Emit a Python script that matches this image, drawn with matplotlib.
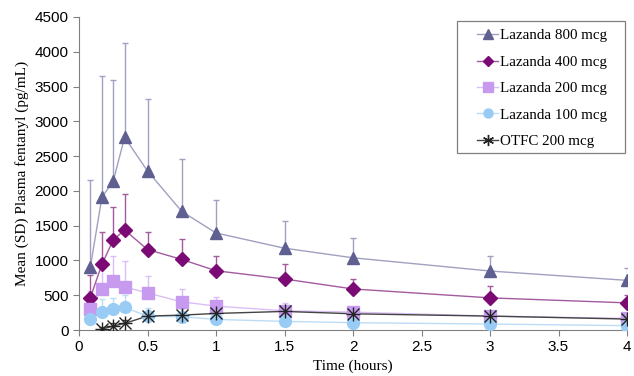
import numpy as np
import matplotlib.pyplot as plt
from matplotlib.patches import Rectangle

# sampling times (hours)
t = [0.083, 0.167, 0.25, 0.333, 0.5, 0.75, 1, 1.5, 2, 3, 4]

mean_800 = [905, 1907, 2142, 2770, 2286, 1705, 1395, 1176, 1038, 848, 714]
top_800 = [2156, 3651, 3594, 4121, 3321, 2458, 1867, 1571, 1319, 1057, 895]

mean_400 = [467, 943, 1295, 1438, 1157, 1014, 852, 733, 590, 462, 390]
top_400 = [786, 1405, 1762, 1962, 1405, 1305, 1071, 952, 738, 629, 500]

mean_200 = [300, 595, 705, 619, 533, 405, 343, 276, 257, 200, 167]
top_200 = [560, 1000, 1057, 986, 771, 595, 476, 381, 333, 260, 215]

mean_100 = [157, 262, 300, 324, 200, 190, 152, 124, 105, 86, 62]
top_100 = [250, 452, 467, 500, 310, 260, 200, 160, 130, 110, 85]

t_otfc = [0.167, 0.25, 0.333, 0.5, 0.75, 1, 1.5, 2, 3, 4]
mean_otfc = [14, 57, 95, 200, 214, 238, 267, 233, 200, 157]
top_otfc = [40, 100, 150, 260, 310, 300, 320, 290, 240, 190]

series = [
    ("Lazanda 800 mcg", t, mean_800, top_800, "^", "#5f5f92", "#a0a0c0", 9),
    ("Lazanda 400 mcg", t, mean_400, top_400, "D", "#7c0a74", "#a45a9e", 7.5),
    ("Lazanda 200 mcg", t, mean_200, top_200, "s", "#c79af0", "#d9bff5", 8.5),
    ("Lazanda 100 mcg", t, mean_100, top_100, "o", "#99ccf5", "#bcdcf7", 8.5),
    ("OTFC 200 mcg", t_otfc, mean_otfc, top_otfc, "x", "#222222", "#444444", 8),
]

fig = plt.figure(figsize=(6.34, 3.76), dpi=100)
ax = fig.add_axes([79 / 634, 1 - 330 / 376, 548 / 634, 313 / 376])

for label, x, m, top, mk, col, lcol, ms in series:
    m = np.asarray(m)
    err = np.asarray(top) - m
    ax.errorbar(x, m, yerr=[np.zeros_like(err), err], fmt="none",
                ecolor=lcol, elinewidth=1, capsize=2, capthick=1, zorder=2)
    ax.plot(x, m, color=lcol, lw=1, zorder=3)
    if mk == "x":
        ax.plot(x, m, ls="none", marker="x", ms=ms, mec=col, mew=1, zorder=4)
        ax.plot(x, m, ls="none", marker="+", ms=ms + 1.5, mec=col, mew=1, zorder=4)
        ax.plot([], [], color=lcol, lw=1, marker=(6, 2, 0), ms=8, mec=col,
                label=label)
    else:
        ax.plot(x, m, ls="none", marker=mk, ms=ms, mfc=col, mec=col, zorder=4)
        ax.plot([], [], color=lcol, lw=1, marker=mk, ms=ms - 2, mfc=col,
                mec=col, label=label)

ax.set_xlim(0, 4)
ax.set_ylim(0, 4500)
ax.set_xticks(np.arange(0, 4.01, 0.5))
ax.set_xticklabels(["0", "0.5", "1", "1.5", "2", "2.5", "3", "3.5", "4"])
ax.set_yticks(np.arange(0, 4501, 500))
for s in ["top", "right"]:
    ax.spines[s].set_visible(False)
for s in ["left", "bottom"]:
    ax.spines[s].set_color("#808080")
ax.tick_params(colors="#808080", labelcolor="black", length=4,
               labelsize=11)
for lab in ax.get_xticklabels() + ax.get_yticklabels():
    lab.set_family("Liberation Sans")

ax.set_xlabel("Time (hours)", family="Liberation Serif", fontsize=11)
ax.set_ylabel("Mean (SD) Plasma fentanyl (pg/mL)", family="Liberation Serif",
              fontsize=11)

# legend box drawn separately (wider side padding than matplotlib's frame)
fig.patches.append(Rectangle((457 / 634, 1 - 153 / 376), 168 / 634, 132 / 376,
                             transform=fig.transFigure, fill=False,
                             edgecolor="#808080", lw=0.9))
ax.legend(loc="upper left", bbox_to_anchor=(474 / 634, 1 - 26 / 376),
          bbox_transform=fig.transFigure,
          prop={"family": "Liberation Serif", "size": 10.8},
          frameon=False, handlelength=1.4, handletextpad=0.15,
          labelspacing=0.86, borderpad=0.2, borderaxespad=0)

fig.savefig("out.png", dpi=100)
